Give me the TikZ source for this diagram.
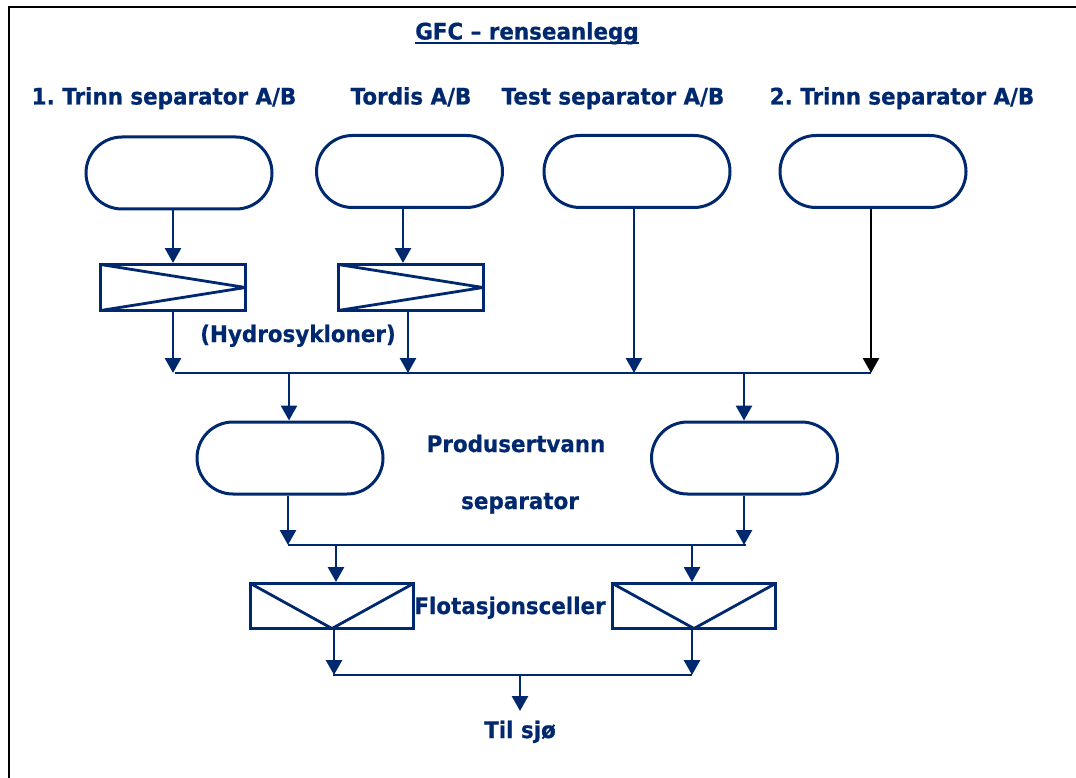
\documentclass[tikz,border=0pt]{standalone}
\usepackage{fontspec}
\setmainfont{DejaVu Sans}[FakeStretch=0.94,BoldFeatures={FakeBold=0.6}]
\usetikzlibrary{arrows.meta,shapes.misc}
\definecolor{navy}{RGB}{0,40,110}
\begin{document}
\begin{tikzpicture}[x=1pt,y=-1pt,
  lbl/.style={text=navy,font=\bfseries\fontsize{22.8}{27}\selectfont,inner sep=0pt},
  vessel/.style={draw=navy,line width=3pt,rounded rectangle,minimum width=186pt,minimum height=72pt,inner sep=0pt},
  cyclone/.style={draw=navy,line width=3pt,rectangle,minimum width=145pt,minimum height=46pt,inner sep=0pt,
    path picture={\draw[navy,line width=2.8pt] (path picture bounding box.north west) -- (path picture bounding box.east) -- (path picture bounding box.south west);}},
  flot/.style={draw=navy,line width=3pt,rectangle,minimum width=163pt,minimum height=45pt,inner sep=0pt,
    path picture={\draw[navy,line width=2.8pt] (path picture bounding box.north west) -- (path picture bounding box.south) -- (path picture bounding box.north east);}},
  arr/.style={draw=navy,line width=2.8pt,-{Triangle[length=15pt,width=16pt]}},
  bus/.style={draw=navy,line width=2.8pt}
]
\useasboundingbox (0,0) rectangle (1076,778);
\fill[white] (0,0) rectangle (1076,778);
\draw[black,line width=2.6pt] (9,778) -- (9,7) -- (1076,7);

% title
\node[lbl,anchor=base] (title) at (527,39.5) {GFC – renseanlegg};
\draw[navy,line width=2.6pt] ([yshift=-3.5pt]title.base west) -- ([yshift=-3.5pt]title.base east);

% header labels
\node[lbl,anchor=base] (l1) at (164,104.5) {1.\ Trinn separator A/B};
\node[lbl,anchor=base] (l2) at (411,104.5) {Tordis A/B};
\node[lbl,anchor=base] (l3) at (613,104.5) {Test separator A/B};
\node[lbl,anchor=base] (l4) at (902,104.5) {2.\ Trinn separator A/B};

% top vessels
\node[vessel] (s1) at (179,173) {};
\node[vessel] (s2) at (409.5,171.5) {};
\node[vessel] (s3) at (637,171.5) {};
\node[vessel] (s4) at (873,171.5) {};

% hydrocyclones
\node[cyclone] (h1) at (173,287.5) {};
\node[cyclone] (h2) at (410.5,287.5) {};
\node[lbl,anchor=base] (hyd) at (298,342) {(Hydrosykloner)};

% bus 1
\coordinate (b1L) at (175,373);
\coordinate (b1R) at (871,373);
\draw[bus] (b1L) -- (b1R);

\draw[arr] (s1.south -| 173,0) -- (h1.north -| 173,0);
\draw[arr] (s2.south -| 403,0) -- (h2.north -| 403,0);
\draw[arr] (h1.south -| 173,0) -- (b1L -| 173,0);
\draw[arr] (h2.south -| 408,0) -- (b1L -| 408,0);
\draw[arr] (s3.south -| 634,0) -- (b1L -| 634,0);
\draw[line width=2.8pt,black,-{Triangle[length=15pt,width=16pt]}] (s4.south -| 871,0) -- (b1R);

% produced water separators
\node[vessel] (p1) at (290,458) {};
\node[vessel] (p2) at (744.5,458) {};
\node[lbl,anchor=base] (pv1) at (516,452) {Produsertvann};
\node[lbl,anchor=base] (pv2) at (520,509) {separator};

\draw[arr] (b1L -| 289,0) -- (p1.north -| 289,0);
\draw[arr] (b1L -| 744,0) -- (p2.north -| 744,0);

% bus 2
\coordinate (b2L) at (288,545);
\coordinate (b2R) at (746,545);
\draw[bus] (b2L) -- (b2R);
\draw[arr] (p1.south -| 288,0) -- (b2L);
\draw[arr] (p2.south -| 744,0) -- (b2L -| 744,0);

% flotation cells
\node[flot] (f1) at (332,606) {};
\node[flot] (f2) at (694,606) {};
\node[lbl,anchor=base] (fl) at (510,614) {Flotasjonsceller};

\draw[arr] (b2L -| 336,0) -- (f1.north -| 336,0);
\draw[arr] (b2L -| 692,0) -- (f2.north -| 692,0);

% bus 3
\coordinate (b3L) at (333,675);
\coordinate (b3R) at (692,675);
\draw[bus] (b3L) -- (b3R);
\draw[arr] (f1.south -| 334,0) -- (b3L -| 334,0);
\draw[arr] (f2.south -| 692,0) -- (b3R);

\node[lbl,anchor=base] (sea) at (520,738) {Til sjø};
\draw[arr] (b3L -| 520,0) -- (520,711);
\end{tikzpicture}
\end{document}
